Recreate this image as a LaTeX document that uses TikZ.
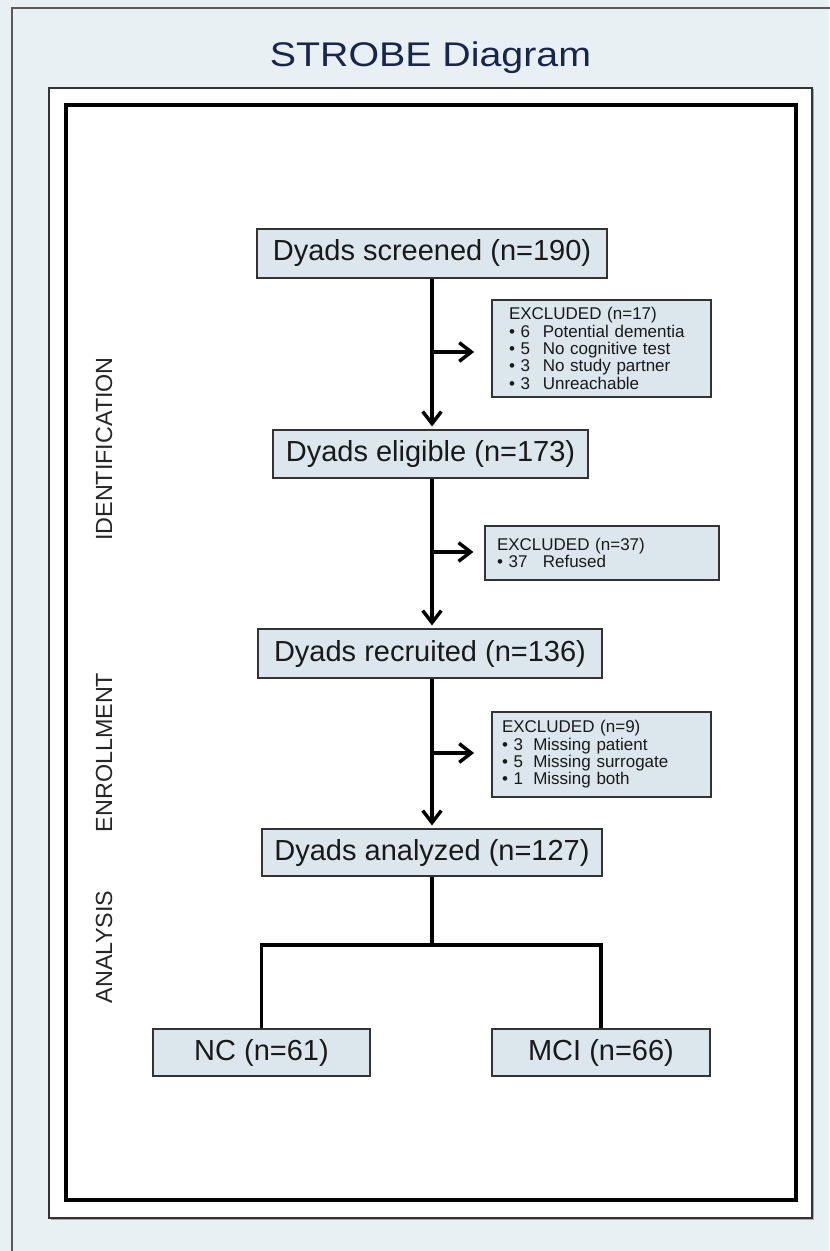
\documentclass[tikz,border=0pt]{standalone}
\usepackage{fontspec}
\setmainfont{Liberation Sans}
\usepackage{graphicx}
\usetikzlibrary{arrows.meta}
\definecolor{bgc}{HTML}{E8F0F3}
\definecolor{boxc}{HTML}{DCE6ED}
\definecolor{titlec}{HTML}{18264F}
\begin{document}
\begin{tikzpicture}[x=0.75pt,y=-0.75pt,
  mainbox/.style={draw=black!80,line width=1.4pt,fill=boxc,text=black!90,
    font=\fontsize{21.75pt}{24pt}\selectfont,inner sep=0pt},
  exbox/.style={draw=black!80,line width=1.4pt,fill=boxc,text=black!90,
    font=\fontsize{12.75pt}{13pt}\selectfont,align=left,inner ysep=0pt},
  side/.style={rotate=90,font=\fontsize{17.5pt}{18pt}\selectfont,text=black!85},
  flow/.style={line width=2.6pt,line join=miter},
  arr/.style={flow,-{Straight Barb[length=9pt,width=14pt]}}]

\useasboundingbox (0,0) rectangle (829,1251);
\fill[bgc] (0,0) rectangle (829,1251);
\draw[black!65,line width=1.3pt] (12,1260) -- (12,8) -- (840,8);
\draw[black!35,line width=1.4pt] (50.5,1219.5) -- (813.5,1219.5) -- (813.5,89.5);
\draw[black!80,line width=1.3pt,fill=white] (49,88) rectangle (812,1218);
\draw[black,line width=3pt] (66,105) rectangle (796,1200);

\node[anchor=base,text=titlec] (title) at (430.5,67)
  {\scalebox{1}[0.87]{\fontsize{29.5pt}{30pt}\selectfont STROBE Diagram}};

\node[mainbox,minimum width=262.5pt,minimum height=36.75pt] (scr) at (432,253.5) {Dyads screened (n=190)};
\node[mainbox,minimum width=236.25pt,minimum height=36pt] (eli) at (430.5,454) {Dyads eligible (n=173)};
\node[mainbox,minimum width=258pt,minimum height=36.75pt] (rec) at (430,653.5) {Dyads recruited (n=136)};
\node[mainbox,minimum width=255pt,minimum height=35.25pt] (ana) at (432,852.5) {Dyads analyzed (n=127)};
\node[mainbox,minimum width=162.75pt,minimum height=35.25pt] (nc) at (261.5,1052.5) {NC (n=61)};
\node[mainbox,minimum width=163.5pt,minimum height=35.25pt] (mci) at (601,1052.5) {MCI (n=66)};

\node[exbox,minimum height=72.75pt,text width=138.75pt,inner xsep=12.75pt] (exA) at (601.5,348.5)
  {EXCLUDED (n=17)\\
   \textbullet\ 6\hspace{0.75em}Potential dementia\\
   \textbullet\ 5\hspace{0.75em}No cognitive test\\
   \textbullet\ 3\hspace{0.75em}No study partner\\
   \textbullet\ 3\hspace{0.75em}Unreachable};
\node[exbox,minimum height=40.5pt,text width=157.5pt,inner xsep=9pt] (exB) at (602,553)
  {EXCLUDED (n=37)\\
   \textbullet\ 37\hspace{0.9em}Refused};
\node[exbox,minimum height=63.75pt,text width=149.25pt,inner xsep=7.5pt] (exC) at (601.5,754.5)
  {EXCLUDED (n=9)\\
   \textbullet\ 3\hspace{0.6em}Missing patient\\
   \textbullet\ 5\hspace{0.6em}Missing surrogate\\
   \textbullet\ 1\hspace{0.6em}Missing both};

\draw[arr,shorten >=2pt] (scr.south) -- (scr.south |- eli.north);
\draw[arr,shorten >=2pt] (scr.south |- eli.south) -- (scr.south |- rec.north);
\draw[arr,shorten >=2pt] (scr.south |- rec.south) -- (scr.south |- ana.north);

\coordinate (jA) at (432,352);
\coordinate (jB) at (432,552);
\coordinate (jC) at (432,753);
\draw[arr,shorten >=12.75pt] (jA) -- (jA -| exA.west);
\draw[arr,shorten >=8pt] (jB) -- (jB -| exB.west);
\draw[arr,shorten >=12.75pt] (jC) -- (jC -| exC.west);

\coordinate (split) at (432,945);
\draw[flow] (ana.south) -- (split);
\draw[flow] (nc.north) -- (nc.north |- split) -- (mci.north |- split) -- (mci.north);

\node[side] (lid) at (104,449) {IDENTIFICATION};
\node[side] (len) at (104,752.5) {ENROLLMENT};
\node[side] (lan) at (104,947) {ANALYSIS};
\end{tikzpicture}
\end{document}
